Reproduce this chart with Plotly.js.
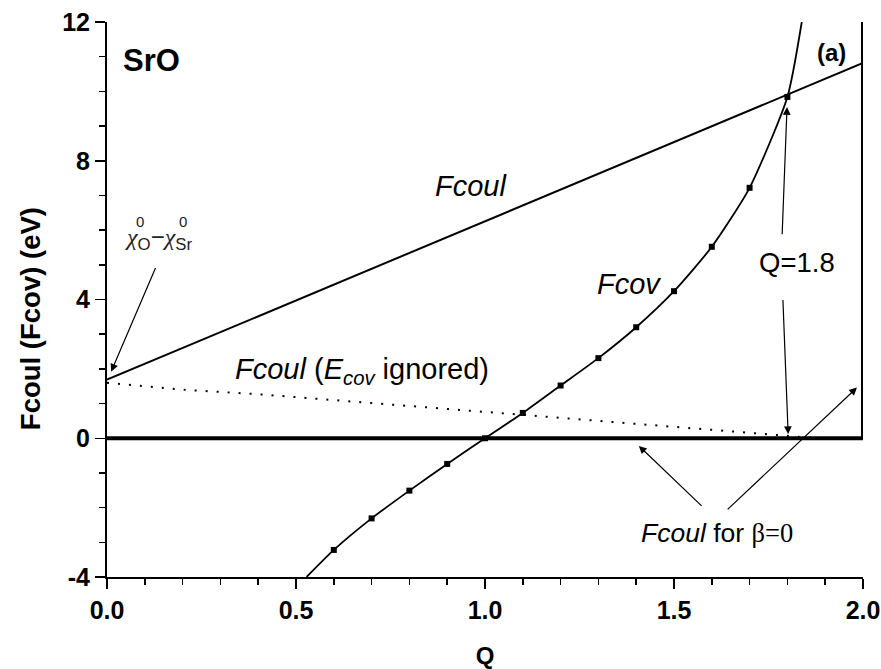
<!DOCTYPE html>
<html>
<head>
<meta charset="utf-8">
<script src="https://cdn.plot.ly/plotly-3.0.1.min.js"></script>
<style>html,body{margin:0;padding:0;background:#fff;}#chart{width:881px;height:669px;}</style>
</head>
<body>
<div id="chart"></div>
<script>
// ---- data ----
const qCov = [0.528, 0.6, 0.7, 0.8, 0.9, 1.0, 1.1, 1.2, 1.3, 1.4, 1.5, 1.6, 1.7, 1.8, 1.838];
const fCov = [-4.0, -3.22, -2.31, -1.51, -0.74, 0.0, 0.73, 1.52, 2.31, 3.20, 4.24, 5.52, 7.22, 9.84, 12.0];
const qCoul = [0, 2];
const fCoul = [1.69, 10.82];
const qIgn = [0, 0.2, 0.4, 0.6, 0.8, 1.0, 1.2, 1.4, 1.6, 1.7, 1.8, 1.85, 1.9, 2.0];
const fIgn = [1.60, 1.40, 1.27, 1.11, 0.93, 0.76, 0.59, 0.42, 0.25, 0.17, 0.07, 0.02, 0.0, 0.0];
const qBeta0 = [0, 2, 2];
const fBeta0 = [0, 0, 12];
const xTickVals = [0, 0.5, 1.0, 1.5, 2.0];
const xTickText = ['0.0', '0.5', '1.0', '1.5', '2.0'];
const yTickVals = [-4, 0, 4, 8, 12];
const yTickText = ['-4', '0', '4', '8', '12'];

const FONT = 'Liberation Sans, Arial, Helvetica, sans-serif';
const SERIF = 'Liberation Serif, Times New Roman, serif';

const traces = [
  {x: qBeta0, y: fBeta0, mode: 'lines', line: {color: '#000', width: 4}, hoverinfo: 'skip', showlegend: false},
  {x: qIgn, y: fIgn, mode: 'lines', line: {color: '#000', width: 2, dash: '2px,9px'}, showlegend: false},
  {x: qCoul, y: fCoul, mode: 'lines', line: {color: '#000', width: 2}, showlegend: false},
  {x: qCov, y: fCov, mode: 'lines', line: {color: '#000', width: 1.8, shape: 'spline', smoothing: 0.6}, showlegend: false},
  {x: qCov.slice(1, -1), y: fCov.slice(1, -1), mode: 'markers',
   marker: {symbol: 'square', size: 6, color: '#000'}, showlegend: false}
];

function arrow(x, y, ax, ay) {
  return {x: x, y: y, ax: ax, ay: ay, xref: 'x', yref: 'y', axref: 'x', ayref: 'y',
          text: '', showarrow: true, arrowhead: 2, arrowsize: 1.3, arrowwidth: 1.2,
          arrowcolor: '#000', standoff: 0, startstandoff: 0};
}
function label(x, y, text, size, color) {
  return {x: x, y: y, xref: 'x', yref: 'y', text: text, showarrow: false,
          xanchor: 'center', yanchor: 'middle',
          font: {family: FONT, size: size, color: color || '#000'}};
}
const chi = '<span style="font-family:' + SERIF + '"><i>χ</i></span>';

const annotations = [
  label(0.118, 10.9, '<b>SrO</b>', 31),
  label(1.917, 11.12, '<b>(a)</b>', 24),
  label(0.963, 7.26, '<i>Fcoul</i>', 29),
  label(1.381, 4.46, '<i>Fcov</i>', 29),
  label(0.675, 1.94, '<i>Fcoul</i> (<i>E<sub>cov</sub></i> ignored)', 29),
  label(1.826, 5.06, 'Q=1.8', 27.5),
  label(1.614, -2.72, '<i>Fcoul</i> for <span style="font-family:' + SERIF + '">β=0</span>', 26.5),
  label(0.136, 5.75, chi + '<sub>O</sub>−' + chi + '<sub>Sr</sub>', 24, '#222'),
  label(0.086, 6.24, '0', 15, '#222'),
  label(0.202, 6.24, '0', 15, '#222'),
  arrow(0.011, 1.92, 0.13, 4.95),
  arrow(1.799, 9.55, 1.786, 5.84),
  arrow(1.802, 0.12, 1.788, 4.03),
  arrow(1.407, -0.22, 1.577, -1.99),
  arrow(1.984, 1.46, 1.638, -2.09)
];

const layout = {
  width: 881, height: 669,
  margin: {l: 107, r: 18, t: 22, b: 92},
  paper_bgcolor: '#fff', plot_bgcolor: '#fff',
  showlegend: false,
  font: {family: FONT, color: '#000'},
  xaxis: {
    range: [0, 2], tickmode: 'array', tickvals: xTickVals, ticktext: xTickText, ticks: 'outside',
    ticklen: 10, tickwidth: 1.5, tickcolor: '#000',
    showline: true, linewidth: 2, linecolor: '#000', showgrid: false, zeroline: false,
    minor: {dtick: 0.1, tick0: 0, ticks: 'outside', ticklen: 6, tickwidth: 1.5, tickcolor: '#000'},
    tickfont: {family: FONT, size: 25, weight: 'bold', color: '#000'},
    title: {text: '<b>Q</b>', font: {family: FONT, size: 24, color: '#000'}, standoff: 26}
  },
  yaxis: {
    range: [-4, 12], tickmode: 'array', tickvals: yTickVals, ticktext: yTickText, ticks: 'outside',
    ticklen: 10, tickwidth: 1.5, tickcolor: '#000',
    showline: true, linewidth: 2, linecolor: '#000', showgrid: false, zeroline: false,
    minor: {dtick: 1, tick0: 0, ticks: 'outside', ticklen: 6, tickwidth: 1.5, tickcolor: '#000'},
    tickfont: {family: FONT, size: 25, weight: 'bold', color: '#000'},
    title: {text: '<b>Fcoul (Fcov) (eV)\u00a0\u00a0\u00a0\u00a0\u00a0</b>', font: {family: FONT, size: 27.5, color: '#000'}, standoff: 14}
  },
  // top and right frame with inward ticks
  xaxis2: {
    overlaying: 'x', side: 'top', anchor: 'y', range: [0, 2], tickmode: 'array', tickvals: xTickVals,
    ticks: 'inside', ticklen: 10, tickwidth: 1.5, tickcolor: '#000',
    minor: {dtick: 0.1, tick0: 0, ticks: 'inside', ticklen: 6, tickwidth: 1.5, tickcolor: '#000'},
    showticklabels: false, showline: true, linewidth: 2, linecolor: '#000', showgrid: false, zeroline: false
  },
  yaxis2: {
    overlaying: 'y', side: 'right', anchor: 'x', range: [-4, 12], tickmode: 'array', tickvals: yTickVals,
    ticks: 'inside', ticklen: 10, tickwidth: 1.5, tickcolor: '#000',
    minor: {dtick: 1, tick0: 0, ticks: 'inside', ticklen: 6, tickwidth: 1.5, tickcolor: '#000'},
    showticklabels: false, showline: true, linewidth: 2, linecolor: '#000', showgrid: false, zeroline: false
  },
  annotations: annotations
};

Plotly.newPlot('chart', traces, layout, {staticPlot: true, displayModeBar: false});
</script>
</body>
</html>
